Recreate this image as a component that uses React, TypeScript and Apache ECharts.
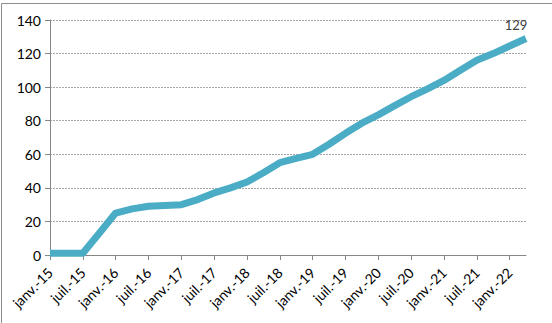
import React, { useEffect, useRef } from "react";
import * as echarts from "echarts";

const categories = [
  "janv.-15", "avr.-15", "juil.-15", "oct.-15",
  "janv.-16", "avr.-16", "juil.-16", "oct.-16",
  "janv.-17", "avr.-17", "juil.-17", "oct.-17",
  "janv.-18", "avr.-18", "juil.-18", "oct.-18",
  "janv.-19", "avr.-19", "juil.-19", "oct.-19",
  "janv.-20", "avr.-20", "juil.-20", "oct.-20",
  "janv.-21", "avr.-21", "juil.-21", "oct.-21",
  "janv.-22", "avr.-22",
];

const values = [
  1, 1, 1, 13,
  25, 27.5, 29, 29.5,
  30, 33, 37, 40,
  43.5, 49, 55, 57.5,
  60, 66, 72.5, 78.5,
  83.5, 89, 94.3, 99,
  104, 110, 116, 120,
  124.5, 129,
];

const yTicks = { min: 0, max: 140, interval: 20 };

const FONT = "Lato, 'Open Sans', sans-serif";

export default function App() {
  const ref = useRef<HTMLDivElement>(null);
  useEffect(() => {
    if (!ref.current) return;
    const chart = echarts.init(ref.current, null, { renderer: "svg" });
    const lastIdx = values.length - 1;
    chart.setOption({
      animation: false,
      backgroundColor: "#ffffff",
      textStyle: { fontFamily: FONT },
      graphic: [
        {
          type: "rect",
          shape: { x: 1.5, y: 3.5, width: 600, height: 400 },
          style: { fill: "none", stroke: "#8c8c8c", lineWidth: 1 },
          silent: true,
        },
      ],
      grid: { left: 50, right: 26, top: 20, bottom: 68, containLabel: false },
      xAxis: {
        type: "category",
        data: categories,
        boundaryGap: false,
        axisLine: { lineStyle: { color: "#868686", width: 1 } },
        axisTick: {
          show: true,
          alignWithLabel: true,
          interval: 1,
          length: 5,
          lineStyle: { color: "#868686", width: 1 },
        },
        axisLabel: {
          interval: 1,
          rotate: 45,
          color: "#000000",
          fontSize: 14,
          margin: 15,
          fontFamily: FONT,
        },
        splitLine: { show: false },
      },
      yAxis: {
        type: "value",
        min: yTicks.min,
        max: yTicks.max,
        interval: yTicks.interval,
        axisLine: { show: true, lineStyle: { color: "#868686", width: 1 } },
        axisTick: { show: true, length: 5, lineStyle: { color: "#868686", width: 1 } },
        axisLabel: {
          color: "#000000",
          fontSize: 14,
          margin: 9,
          fontFamily: FONT,
        },
        splitLine: {
          show: true,
          lineStyle: { color: "#a6a6a6", width: 1, type: [2, 1] },
        },
      },
      series: [
        {
          type: "line",
          data: values,
          showSymbol: false,
          symbol: "none",
          lineStyle: { color: "#4bacc6", width: 7, cap: "butt", join: "round" },
          itemStyle: { color: "#4bacc6" },
          markPoint: {
            symbol: "circle",
            symbolSize: 1,
            itemStyle: { color: "rgba(0,0,0,0)" },
            label: {
              show: true,
              position: "top",
              distance: 8,
              offset: [-10, 2],
              color: "#404040",
              fontSize: 13,
              fontFamily: FONT,
              formatter: "{c}",
            },
            data: [
              { coord: [lastIdx, values[lastIdx]], value: values[lastIdx] },
            ],
          },
        },
      ],
    });
    return () => chart.dispose();
  }, []);
  return (
    <div
      ref={ref}
      style={{ position: "fixed", left: 0, top: 0, width: 552, height: 323 }}
    />
  );
}
